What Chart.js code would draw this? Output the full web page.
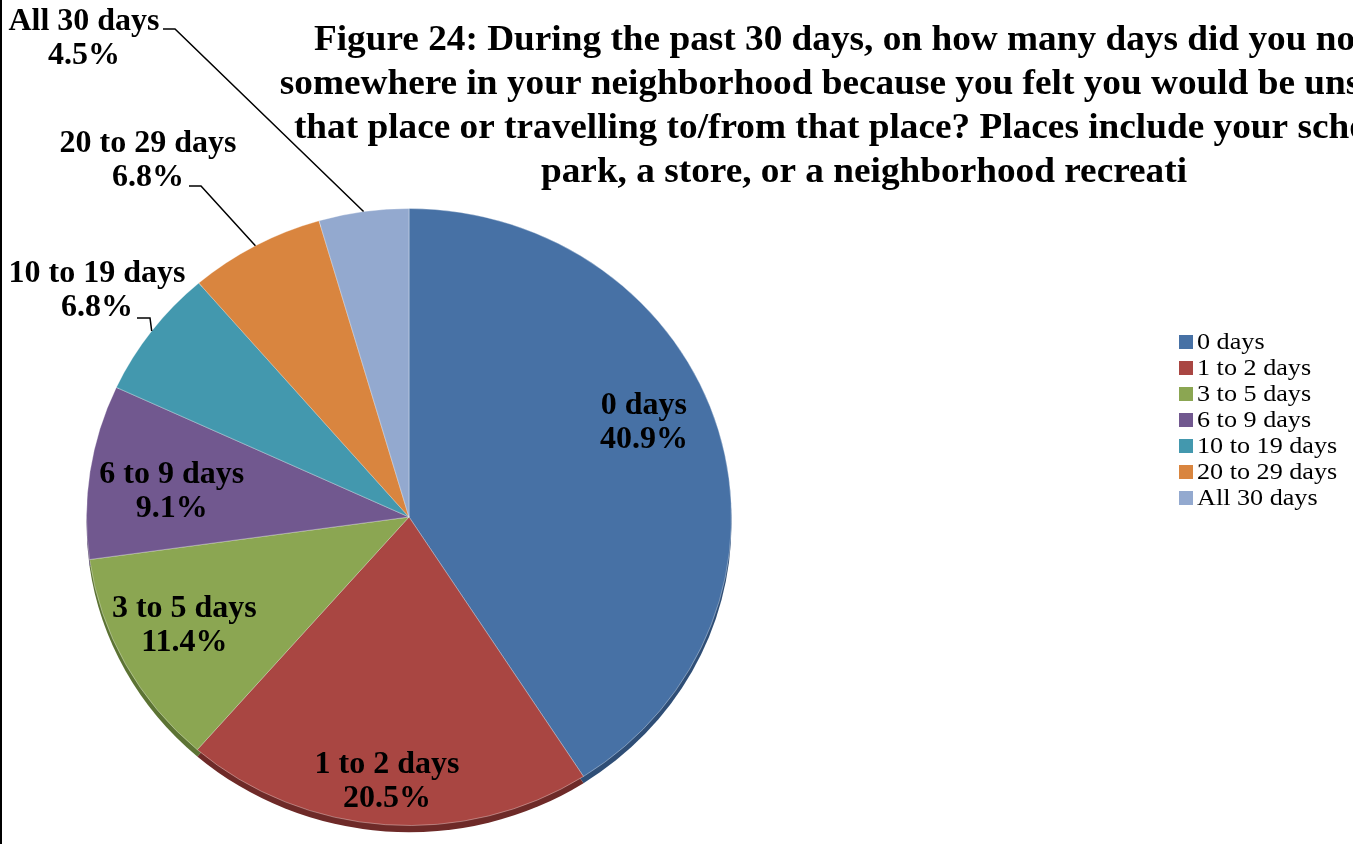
<!DOCTYPE html>
<html>
<head>
<meta charset="utf-8">
<script src="https://cdn.jsdelivr.net/npm/chart.js@4.4.1/dist/chart.umd.min.js"></script>
<style>
    body { margin: 0; background: #ffffff; }
    canvas { display: block; }
</style>
</head>
<body>
<canvas id="pieChart" width="1353" height="844"></canvas>
<script>
// Figure 24 pie chart, drawn with Chart.js

const categories = ['0 days', '1 to 2 days', '3 to 5 days', '6 to 9 days', '10 to 19 days', '20 to 29 days', 'All 30 days'];
const percentages = [40.9, 20.5, 11.4, 9.1, 6.8, 6.8, 4.5];

const titleLines = [
    'Figure 24: During the past 30 days, on how many days did you not go',
    'somewhere in your neighborhood because you felt you would be unsafe at',
    'that place or travelling to/from that place? Places include your school, a',
    'park, a store, or a neighborhood recreati'
];

const sliceColors = ['#4771A5', '#A94642', '#8BA652', '#71588F', '#4398AE', '#D9853F', '#93A9CF'];
const rimColors = ['#2F4E76', '#6E2A28', '#5C7334', '#4B3A61', '#2B6778', '#94572A', '#60779C'];

const serif = "'Liberation Serif', 'Times New Roman', serif";
const pieScaleY = 309 / 323;   // slight tilt of the pie
const rimDepth = 7;

// inside labels: [share of radius, angle shift in degrees]
const insideLabelPos = [[0.79, -6.4], [0.86, 0.4], [0.78, 1.7], [0.74, -2.2]];
// outside labels: text centre and elbow of the leader line
const outsideLabelPos = {
    4: { x: 97, y: 291, elbowX: 150, elbowY: 318, tailX: 137 },
    5: { x: 148, y: 161, elbowX: 201, elbowY: 186, tailX: 189 },
    6: { x: 84, y: 39, elbowX: 175, elbowY: 29, tailX: 163 }
};

function pointOnPie(arc, angle, frac) {
    return {
        x: arc.x + Math.cos(angle) * arc.outerRadius * frac,
        y: arc.y + Math.sin(angle) * arc.outerRadius * frac * pieScaleY
    };
}

// text is a little wider in the original than the font gives
function stretchedText(ctx, text, x, y, sx) {
    ctx.save();
    ctx.translate(x, y);
    ctx.scale(sx, 1);
    ctx.fillText(text, 0, 0);
    ctx.restore();
}

const piePlugin = {
    id: 'tiltedPie',
    beforeDraw(chart) {
        const ctx = chart.ctx;
        ctx.save();
        ctx.fillStyle = '#000000';
        ctx.fillRect(0, 0, 2, chart.height);

        // title, wider than the chart so it runs off the right edge
        ctx.font = 'bold 35px ' + serif;
        ctx.fillStyle = '#000000';
        ctx.textAlign = 'center';
        ctx.textBaseline = 'middle';
        titleLines.forEach((line, i) => {
            stretchedText(ctx, line, 864, 41 + i * 44, 1.065);
        });

        // legend
        ctx.font = '24px ' + serif;
        ctx.textAlign = 'left';
        categories.forEach((name, i) => {
            const y = 342 + i * 26;
            ctx.fillStyle = sliceColors[i];
            ctx.fillRect(1179, y - 7, 14, 14);
            ctx.fillStyle = '#000000';
            stretchedText(ctx, name, 1197, y + 1, 1.09);
        });
        ctx.restore();
    },
    beforeDatasetsDraw(chart) {
        const ctx = chart.ctx;
        const arcs = chart.getDatasetMeta(0).data;
        const cx = arcs[0].x;
        const cy = arcs[0].y;
        ctx.save();
        ctx.translate(cx, cy);
        ctx.scale(1, pieScaleY);
        ctx.translate(-cx, -cy);
        // darker rim underneath the face
        arcs.forEach((arc, i) => {
            ctx.beginPath();
            ctx.moveTo(arc.x, arc.y + rimDepth);
            ctx.arc(arc.x, arc.y + rimDepth, arc.outerRadius, arc.startAngle, arc.endAngle);
            ctx.closePath();
            ctx.fillStyle = rimColors[i];
            ctx.fill();
        });
    },
    afterDatasetsDraw(chart) {
        const ctx = chart.ctx;
        ctx.restore();

        const arcs = chart.getDatasetMeta(0).data;
        ctx.save();
        ctx.font = 'bold 32px ' + serif;
        ctx.fillStyle = '#000000';
        ctx.textAlign = 'center';
        ctx.textBaseline = 'middle';
        ctx.strokeStyle = '#000000';
        ctx.lineWidth = 1.5;

        arcs.forEach((arc, i) => {
            const mid = (arc.startAngle + arc.endAngle) / 2;
            const pctText = percentages[i].toFixed(1) + '%';
            if (i < insideLabelPos.length) {
                const [frac, shift] = insideLabelPos[i];
                const p = pointOnPie(arc, mid + shift * Math.PI / 180, frac);
                ctx.fillText(categories[i], p.x, p.y - 17);
                ctx.fillText(pctText, p.x, p.y + 17);
            } else {
                const lab = outsideLabelPos[i];
                ctx.fillText(categories[i], lab.x, lab.y - 17);
                ctx.fillText(pctText, lab.x, lab.y + 17);
                const edge = pointOnPie(arc, mid, 1.0);
                ctx.beginPath();
                ctx.moveTo(lab.tailX, lab.elbowY);
                ctx.lineTo(lab.elbowX, lab.elbowY);
                ctx.lineTo(edge.x, edge.y);
                ctx.stroke();
            }
        });
        ctx.restore();
    }
};

new Chart(document.getElementById('pieChart'), {
    type: 'pie',
    data: {
        labels: categories,
        datasets: [{
            data: percentages,
            backgroundColor: sliceColors,
            borderColor: 'rgba(255, 255, 255, 0.35)',
            borderWidth: 1
        }]
    },
    options: {
        responsive: false,
        animation: false,
        events: [],
        layout: {
            padding: { left: 86, right: 621, top: 194, bottom: 4 }
        },
        plugins: {
            legend: { display: false },
            tooltip: { enabled: false },
            title: { display: false }
        }
    },
    plugins: [piePlugin]
});
</script>
</body>
</html>
